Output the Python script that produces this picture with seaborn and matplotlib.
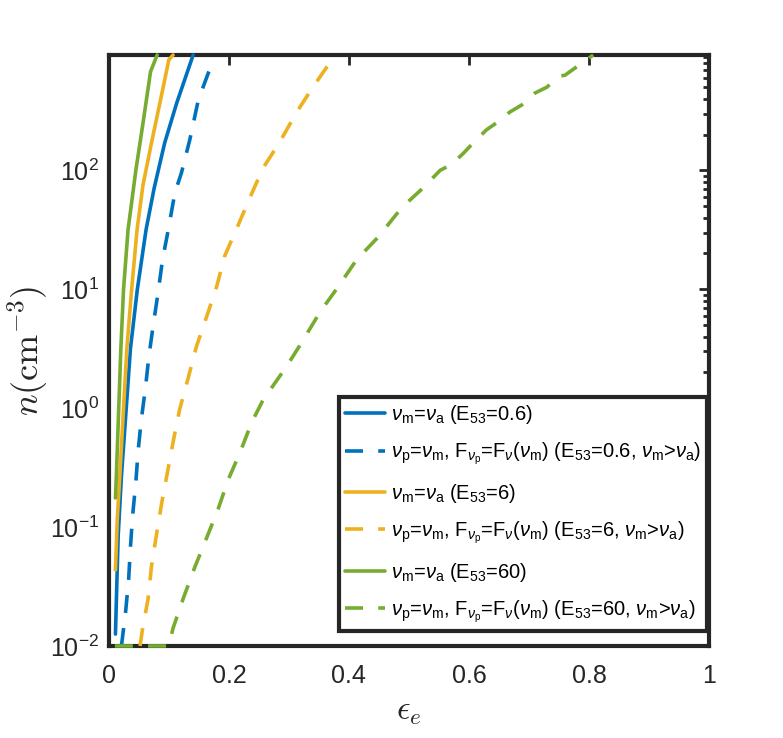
import numpy as np
import pandas as pd
import matplotlib
matplotlib.use('Agg')
import matplotlib.pyplot as plt
import seaborn as sns
from matplotlib.ticker import LogLocator, FixedLocator, NullFormatter

eps_b_solid = [0.011, 0.0155, 0.021, 0.029, 0.036, 0.0475, 0.062, 0.0755, 0.093, 0.113, 0.1405]
logn_b_solid = [-1.90, -1.08, -0.57, 0.0, 0.5, 1.0, 1.5, 1.85, 2.23, 2.565, 2.97]

eps_b_dash = [0.021, 0.028, 0.033, 0.036, 0.0395, 0.045, 0.049, 0.054, 0.061, 0.0667, 0.074, 0.082,
              0.0895, 0.099, 0.11, 0.121, 0.135, 0.149, 0.168, 0.171]
logn_b_dash = [-2.0, -1.71, -1.44, -1.17, -0.91, -0.62, -0.35, -0.10, 0.17, 0.435, 0.70, 0.97,
               1.25, 1.50, 1.81, 1.98, 2.26, 2.59, 2.85, 2.87]

eps_o_solid = [0.011, 0.014, 0.0185, 0.0245, 0.030, 0.038, 0.047, 0.057, 0.071, 0.085, 0.10, 0.107]
logn_o_solid = [-1.36, -0.94, -0.55, 0.0, 0.5, 1.0, 1.5, 1.88, 2.23, 2.565, 2.93, 2.97]

eps_o_dash = [0.052, 0.056, 0.0655, 0.071, 0.0795, 0.088, 0.098, 0.108, 0.118, 0.132, 0.146, 0.163,
              0.1795, 0.193, 0.213, 0.235, 0.257, 0.285, 0.313, 0.34, 0.377]
logn_o_dash = [-2.0, -1.86, -1.60, -1.33, -1.06, -0.80, -0.53, -0.26, -0.01, 0.25, 0.52, 0.77,
               1.02, 1.28, 1.51, 1.77, 2.02, 2.24, 2.49, 2.70, 2.97]

eps_g_solid = [0.011, 0.0125, 0.0165, 0.020, 0.0245, 0.032, 0.045, 0.057, 0.0695, 0.0805]
logn_g_solid = [-0.755, -0.57, 0.0, 0.5, 1.0, 1.5, 2.0, 2.40, 2.83, 2.97]

eps_g_dash = [0.01, 0.10, 0.107, 0.124, 0.143, 0.163, 0.182, 0.199, 0.218, 0.238, 0.257, 0.271,
              0.296, 0.321, 0.352, 0.382, 0.413, 0.449, 0.479, 0.493, 0.521, 0.552, 0.571, 0.59,
              0.607, 0.629, 0.646, 0.668, 0.688, 0.71, 0.73, 0.749, 0.76, 0.771, 0.796, 0.807]
logn_g_dash = [-2.0, -2.0, -1.85, -1.60, -1.34, -1.09, -0.85, -0.60, -0.38, -0.12, 0.07, 0.17,
               0.35, 0.55, 0.81, 1.02, 1.25, 1.44, 1.63, 1.71, 1.84, 2.00, 2.05, 2.14,
               2.23, 2.34, 2.40, 2.49, 2.55, 2.65, 2.70, 2.79, 2.80, 2.84, 2.93, 2.97]

labels = [
    r'$\nu_{\rm m}$=$\nu_{\rm a}$ (E$_{53}$=0.6)',
    r'$\nu_{\rm p}$=$\nu_{\rm m}$, F$_{\nu_{\rm p}}$=F$_{\nu}$($\nu_{\rm m}$) (E$_{53}$=0.6, $\nu_{\rm m}$>$\nu_{\rm a}$)',
    r'$\nu_{\rm m}$=$\nu_{\rm a}$ (E$_{53}$=6)',
    r'$\nu_{\rm p}$=$\nu_{\rm m}$, F$_{\nu_{\rm p}}$=F$_{\nu}$($\nu_{\rm m}$) (E$_{53}$=6, $\nu_{\rm m}$>$\nu_{\rm a}$)',
    r'$\nu_{\rm m}$=$\nu_{\rm a}$ (E$_{53}$=60)',
    r'$\nu_{\rm p}$=$\nu_{\rm m}$, F$_{\nu_{\rm p}}$=F$_{\nu}$($\nu_{\rm m}$) (E$_{53}$=60, $\nu_{\rm m}$>$\nu_{\rm a}$)',
]
series = [(eps_b_solid, logn_b_solid), (eps_b_dash, logn_b_dash),
          (eps_o_solid, logn_o_solid), (eps_o_dash, logn_o_dash),
          (eps_g_solid, logn_g_solid), (eps_g_dash, logn_g_dash)]

frames = []
for lab, (e, ln) in zip(labels, series):
    frames.append(pd.DataFrame({'eps': e, 'n': 10 ** np.array(ln), 'curve': lab}))
df = pd.concat(frames, ignore_index=True)

blue, orange, green = '#0072BD', '#EDB120', '#77AC30'
palette = dict(zip(labels, [blue, blue, orange, orange, green, green]))
dash = (5.0, 4.2)
dashes = dict(zip(labels, ['', dash, '', dash, '', dash]))

sns.set_style('white')
plt.rcParams['font.family'] = ['Liberation Sans', 'DejaVu Sans']
plt.rcParams['mathtext.fontset'] = 'custom'
plt.rcParams['mathtext.rm'] = 'Liberation Sans'
plt.rcParams['mathtext.it'] = 'Liberation Sans:italic'
plt.rcParams['mathtext.bf'] = 'Liberation Sans:bold'
plt.rcParams['mathtext.sf'] = 'Liberation Sans'

axcol = '#262626'
fig = plt.figure(figsize=(7.83, 7.38), dpi=100)
ax = fig.add_axes([0.139, 0.1247, 0.7666, 0.8008])

sns.lineplot(data=df, x='eps', y='n', hue='curve', style='curve', palette=palette,
             dashes=dashes, estimator=None, sort=False, linewidth=2.6, ax=ax,
             zorder=3, clip_on=False)

ax.set_yscale('log')
ax.set_xlim(0, 1)
ax.set_ylim(0.01, 10 ** 2.97)
ax.xaxis.set_major_locator(FixedLocator([0, 0.2, 0.4, 0.6, 0.8, 1.0]))
ax.set_xticklabels(['0', '0.2', '0.4', '0.6', '0.8', '1'])
ax.yaxis.set_major_locator(LogLocator(base=10, numticks=10))
ax.yaxis.set_minor_locator(LogLocator(base=10, subs=np.arange(2, 10), numticks=20))
ax.yaxis.set_minor_formatter(NullFormatter())
ax.tick_params(which='both', direction='in', top=True, right=True, colors=axcol,
               labelsize=18, width=2)
ax.tick_params(which='major', length=7, pad=7)
ax.tick_params(which='minor', length=4)
ax.tick_params(axis='x', which='major', pad=13)
for sp in ax.spines.values():
    sp.set_linewidth(3)
    sp.set_color(axcol)
    sp.set_zorder(2.5)

ax.set_xlabel(r'$\epsilon_e$', fontsize=24, math_fontfamily='cm', color=axcol, labelpad=6)
ax.set_ylabel(r'$n(\mathrm{cm}^{-3})$', fontsize=26, math_fontfamily='cm', color=axcol, labelpad=0)

leg = ax.legend(loc='lower right', bbox_to_anchor=(0.997, 0.025), borderaxespad=0,
                fontsize=14.5, frameon=True, fancybox=False, framealpha=1,
                edgecolor=axcol, handlelength=1.95, handletextpad=0.3,
                labelspacing=0.72, borderpad=0.32)
leg.get_frame().set_linewidth(3)
leg.set_zorder(5)
for t in leg.get_texts():
    t.set_color('black')

fig.savefig('out.png', dpi=100)
